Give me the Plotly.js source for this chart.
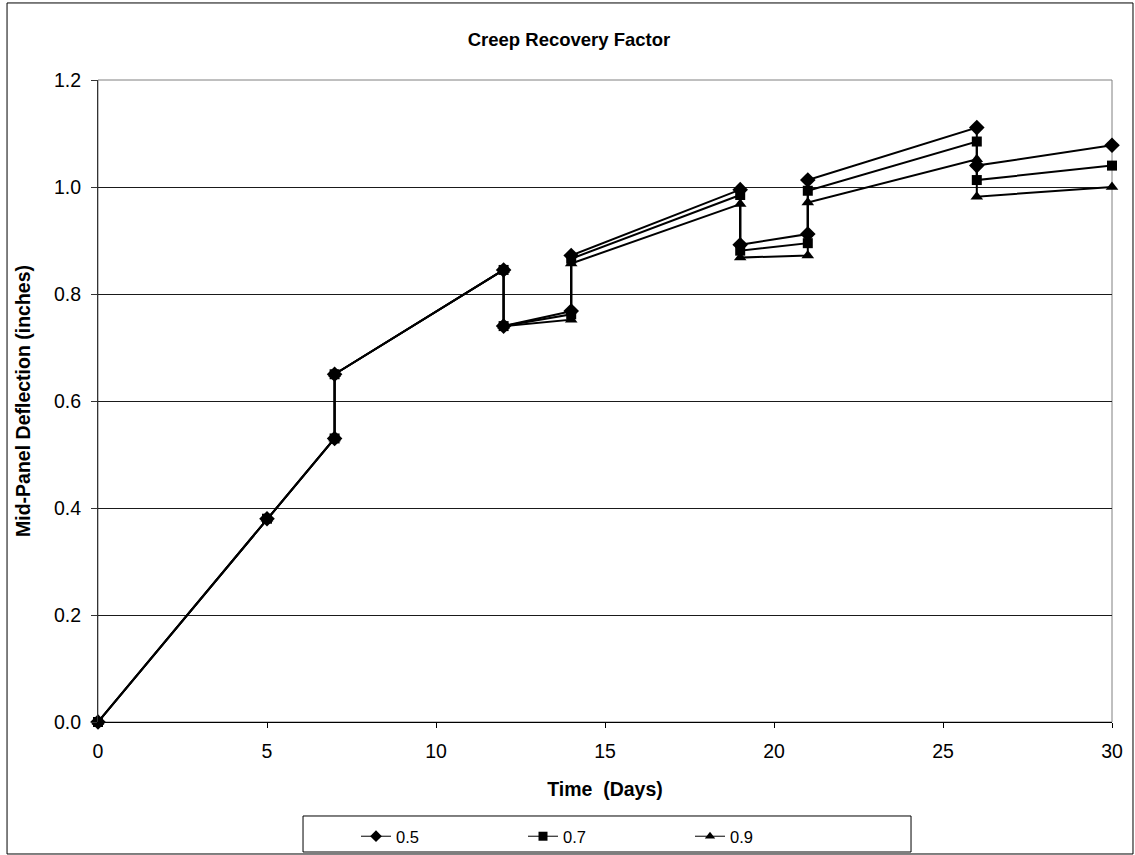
<!DOCTYPE html>
<html>
<head>
<meta charset="utf-8">
<script src="https://cdn.plot.ly/plotly-3.0.1.min.js"></script>
<style>
  html, body { margin: 0; padding: 0; background: #fff; }
  #chart { width: 1135px; height: 855px; }
</style>
</head>
<body>
<div id="chart"></div>
<script>
// Time in days; repeated days mark load/unload steps
const days = [0, 5, 7, 7, 12, 12, 14, 14, 19, 19, 21, 21, 26, 26, 30];

// Mid-panel deflection (inches) for each creep recovery factor
const deflection05 = [0, 0.38, 0.53, 0.65, 0.845, 0.74, 0.768, 0.872, 0.995, 0.892, 0.912, 1.013, 1.111, 1.040, 1.078];
const deflection07 = [0, 0.38, 0.53, 0.65, 0.845, 0.74, 0.762, 0.866, 0.985, 0.881, 0.895, 0.993, 1.085, 1.013, 1.040];
const deflection09 = [0, 0.38, 0.53, 0.65, 0.845, 0.74, 0.752, 0.857, 0.968, 0.868, 0.872, 0.971, 1.052, 0.982, 1.000];

const seriesNames = ['0.5', '0.7', '0.9'];
const xTicks = [0, 5, 10, 15, 20, 25, 30];
const yTicks = [0, 0.2, 0.4, 0.6, 0.8, 1.0, 1.2];

const FONT = 'Arial, "Liberation Sans", sans-serif';
const symbols = ['diamond', 'square', 'triangle-up'];
const sizes = [12, 10, 11];
const seriesValues = [deflection05, deflection07, deflection09];

const data = [];
seriesValues.forEach((y, i) => {
  data.push({
    x: days, y: y, name: seriesNames[i], type: 'scatter', mode: 'lines+markers',
    line: { color: '#000', width: 2 },
    marker: { symbol: symbols[i], size: sizes[i], color: '#000' },
    cliponaxis: false, showlegend: false
  });
});
// lighter-weight keys for the legend
seriesNames.forEach((name, i) => {
  data.push({
    x: [null], y: [null], name: name, type: 'scatter', mode: 'lines+markers',
    line: { color: '#000', width: 1 },
    marker: { symbol: symbols[i], size: 9, color: '#000' },
    showlegend: true
  });
});

const layout = {
  width: 1135, height: 855,
  margin: { l: 98, r: 23, t: 80, b: 133 },
  paper_bgcolor: '#fff', plot_bgcolor: '#fff',
  font: { family: FONT, size: 16, color: '#000' },
  title: {
    text: '<b>Creep Recovery Factor</b>',
    font: { family: FONT, size: 18.5, color: '#000' },
    x: 0.4645, xref: 'paper', xanchor: 'center',
    y: 40, yref: 'container', yanchor: 'middle'
  },
  xaxis: {
    range: [0, 30], tickvals: xTicks, ticktext: xTicks.map(String),
    showgrid: false, zeroline: false,
    showline: true, linecolor: '#000', linewidth: 1,
    ticks: 'outside', ticklen: 5, tickcolor: '#000',
    ticklabelstandoff: 7,
    tickfont: { family: FONT, size: 19.5 },
    title: { text: '<b>Time  (Days)</b>', font: { family: FONT, size: 19.5 }, standoff: 20 }
  },
  yaxis: {
    range: [0, 1.2], tickvals: yTicks, ticktext: yTicks.map(v => v.toFixed(1)),
    showgrid: true, gridcolor: '#1a1a1a', gridwidth: 1,
    zeroline: false,
    showline: true, linecolor: '#333', linewidth: 1,
    ticks: 'outside', ticklen: 6, tickcolor: '#333',
    ticklabelstandoff: 6,
    tickfont: { family: FONT, size: 19.5 },
    title: { text: '<b>Mid-Panel Deflection (inches)</b>', font: { family: FONT, size: 19.5 }, standoff: 18 }
  },
  showlegend: true,
  legend: {
    orientation: 'h',
    xref: 'container', yref: 'container',
    x: 356 / 1135, xanchor: 'left',
    y: (855 - 819) / 855, yanchor: 'top',
    bgcolor: 'rgba(0,0,0,0)', borderwidth: 0,
    entrywidth: 122, entrywidthmode: 'pixels',
    font: { family: FONT, size: 16.5 }
  },
  shapes: [
    // plot area frame
    { type: 'rect', xref: 'paper', yref: 'paper', x0: 0, x1: 1, y0: 0, y1: 1,
      line: { color: '#808080', width: 1 }, layer: 'below' },
    // outer chart border
    { type: 'rect', xref: 'paper', yref: 'paper', x0: -0.0897, x1: 1.0207, y0: -0.2056, y1: 1.12,
      line: { color: '#000', width: 1 } },
    // legend box
    { type: 'rect', xref: 'paper', yref: 'paper', x0: 0.2022, x1: 0.8018, y0: -0.1464, y1: -0.2025,
      line: { color: '#000', width: 1 } }
  ]
};

Plotly.newPlot('chart', data, layout, { displayModeBar: false, staticPlot: true });
</script>
</body>
</html>
